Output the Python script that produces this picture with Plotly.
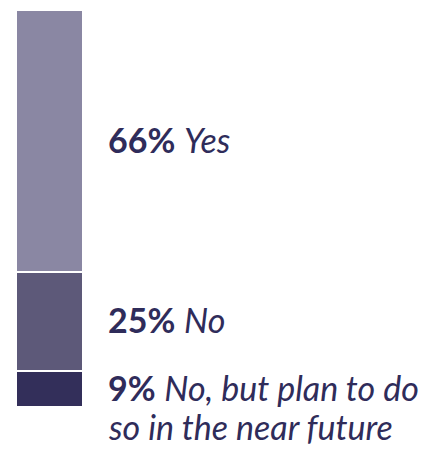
import plotly.graph_objects as go

categories = ["Yes", "No", "No, but plan to do so in the near future"]
label_lines = [["Yes"], ["No"], ["No, but plan to do", "so in the near future"]]
values = [66, 25, 9]
colors = ["#8a87a3", "#5d5979", "#332f5a"]
text_color = "#2f2c5a"

# stack bottom-up: 9%, 25%, 66%
order = [2, 1, 0]

fig = go.Figure()
for i in order:
    fig.add_trace(go.Bar(
        x=[0], y=[values[i]], name=categories[i],
        marker=dict(color=colors[i], line=dict(color="white", width=2.5)),
        width=1.04, hoverinfo="skip", showlegend=False,
    ))

bases = {}
cum = 0
for i in order:
    bases[i] = cum
    cum += values[i]

font = dict(family="Lato, sans-serif", size=34, color=text_color)
for i in range(3):
    center = bases[i] + values[i] / 2
    lines = label_lines[i]
    for k, line in enumerate(lines):
        txt = (f"<b>{values[i]}%</b> " if k == 0 else "") + f"<i>{line}</i>"
        fig.add_annotation(
            x=0.2160, xref="paper", y=center, yref="y",
            text=txt, showarrow=False, xanchor="left", yanchor="middle",
            align="left", yshift=2 - k * 39,
            font=font,
        )

fig.update_layout(
    barmode="stack", bargap=0,
    width=421, height=444,
    margin=dict(l=9, r=0, t=2, b=45, pad=0),
    paper_bgcolor="white", plot_bgcolor="white",
    xaxis=dict(range=[-0.5, -0.5 + 412 / 65], visible=False, fixedrange=True),
    yaxis=dict(range=[0, 100], visible=False, fixedrange=True),
)

fig.write_html("out.html")
